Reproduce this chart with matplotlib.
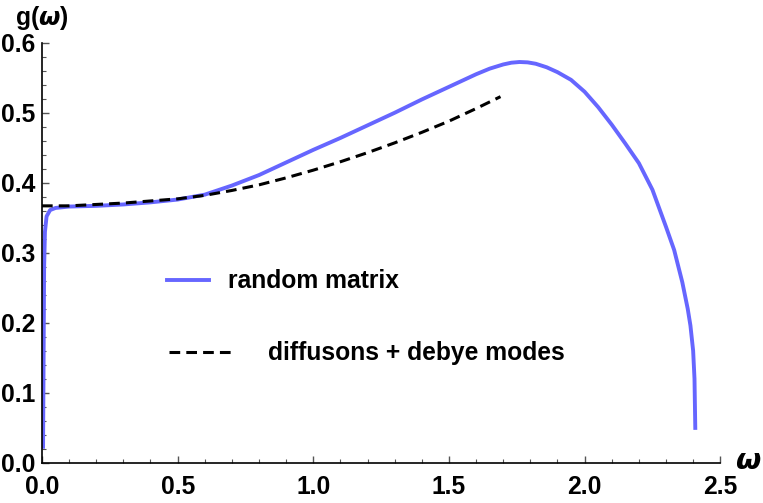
import matplotlib.pyplot as plt
from matplotlib.ticker import MultipleLocator

plt.rcParams['font.family'] = ['Liberation Sans', 'DejaVu Sans']
plt.rcParams['font.weight'] = 'bold'

# random matrix density of states
rm_w = [0.004, 0.006, 0.008, 0.011, 0.017, 0.03, 0.05, 0.1, 0.2, 0.3, 0.4, 0.5,
        0.6, 0.7, 0.8, 0.9, 1.0, 1.1, 1.2, 1.3, 1.4, 1.5, 1.6, 1.65, 1.7, 1.73,
        1.76, 1.79, 1.82, 1.86, 1.9, 1.95, 2.0, 2.05, 2.1, 2.15, 2.2, 2.25, 2.3,
        2.33, 2.36, 2.38, 2.39, 2.40, 2.405, 2.408]
rm_g = [0.02, 0.15, 0.28, 0.33, 0.352, 0.361, 0.364, 0.366, 0.367, 0.369, 0.372, 0.376,
        0.383, 0.396, 0.411, 0.429, 0.447, 0.464, 0.482, 0.500, 0.519, 0.537, 0.555, 0.563, 0.569, 0.5715,
        0.5725, 0.572, 0.570, 0.565, 0.558, 0.547, 0.530, 0.508, 0.483, 0.456, 0.428, 0.390, 0.337,
        0.304, 0.258, 0.220, 0.196, 0.160, 0.120, 0.047]

# diffusons + debye modes
dd_w = [0.0, 0.1, 0.2, 0.3, 0.4, 0.5, 0.6, 0.7, 0.8, 0.9, 1.0, 1.1, 1.2, 1.3, 1.4, 1.5, 1.6, 1.69]
dd_g = [0.367, 0.367, 0.369, 0.371, 0.374, 0.377, 0.382, 0.389, 0.397, 0.407, 0.418, 0.430,
        0.443, 0.457, 0.472, 0.488, 0.506, 0.523]

blue = '#6666FF'
fs = 17.7

fig = plt.figure(figsize=(7.63, 5.03), dpi=100)
ax = fig.add_axes([0.055, 0.080, 0.889, 0.835])

ax.plot(rm_w, rm_g, color=blue, lw=2.8, solid_joinstyle='round', solid_capstyle='butt')
ax.plot(dd_w, dd_g, color='black', lw=2.2, dashes=(3.5, 2.0))

ax.set_xlim(0, 2.5)
ax.set_ylim(0, 0.6)
ax.spines['top'].set_visible(False)
ax.spines['right'].set_visible(False)
for s in ['left', 'bottom']:
    ax.spines[s].set_linewidth(1.2)

ax.xaxis.set_major_locator(MultipleLocator(0.5))
ax.xaxis.set_minor_locator(MultipleLocator(0.1))
ax.yaxis.set_major_locator(MultipleLocator(0.1))
ax.yaxis.set_minor_locator(MultipleLocator(0.02))
ax.xaxis.set_major_formatter(plt.FuncFormatter(lambda v, p: f'{v:.1f}'))
ax.yaxis.set_major_formatter(plt.FuncFormatter(lambda v, p: f'{v:.1f}'))
ax.tick_params(which='major', direction='in', length=5, width=1, color='#555555',
               labelsize=fs)
ax.tick_params(axis='x', which='major', pad=9)
ax.tick_params(axis='y', which='major', pad=5)
ax.tick_params(which='minor', direction='in', length=3, width=0.8, color='#555555')

ax.text(0.0, 1.025, r'g($\omega$)', transform=ax.transAxes, fontsize=fs,
        fontweight='bold', ha='center', va='bottom')
ax.text(1.022, 0.005, r'$\omega$', transform=ax.transAxes, fontsize=21,
        ha='left', va='center')

# legend drawn by hand
ax.plot([0.185, 0.246], [0.435, 0.435], transform=ax.transAxes, color=blue, lw=2.8)
ax.text(0.274, 0.432, 'random matrix', transform=ax.transAxes, fontsize=fs,
        fontweight='bold', va='center')
ax.plot([0.188, 0.281], [0.264, 0.264], transform=ax.transAxes, color='black',
        lw=2.2, dashes=(3.5, 2.0))
ax.text(0.333, 0.261, 'diffusons + debye modes', transform=ax.transAxes, fontsize=fs,
        fontweight='bold', va='center')

fig.savefig('out.png', dpi=100)
